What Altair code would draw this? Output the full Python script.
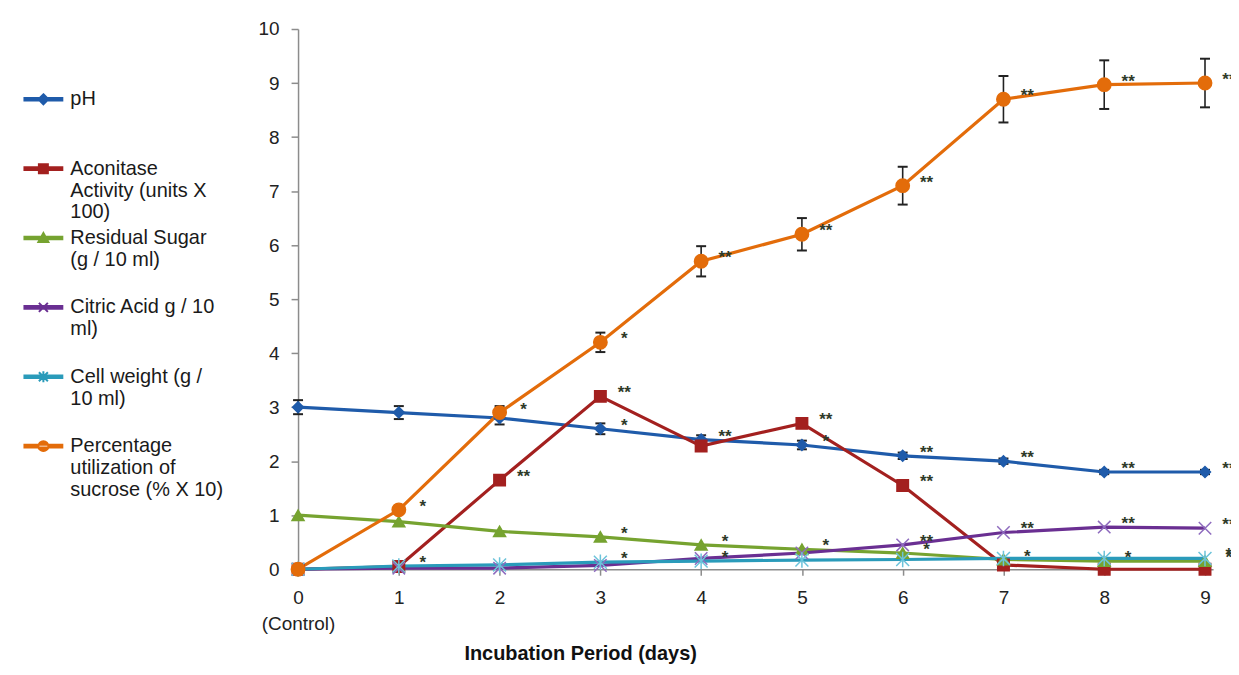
import altair as alt
import pandas as pd

FONT = "Liberation Sans, Arial, sans-serif"

days = [0, 1, 2, 3, 4, 5, 6, 7, 8, 9]
series_names = [
    "pH",
    "Aconitase\nActivity (units X\n100)",
    "Residual Sugar\n(g / 10 ml)",
    "Citric Acid g / 10\nml)",
    "Cell weight (g /\n10 ml)",
    "Percentage\nutilization of\nsucrose (% X 10)",
]

ph = [3.0, 2.9, 2.8, 2.6, 2.4, 2.3, 2.1, 2.0, 1.8, 1.8]
aconitase = [0.0, 0.05, 1.65, 3.2, 2.28, 2.7, 1.55, 0.08, 0.0, 0.0]
sugar = [1.0, 0.88, 0.7, 0.6, 0.45, 0.37, 0.3, 0.18, 0.15, 0.15]
citric = [0.0, 0.02, 0.02, 0.07, 0.2, 0.3, 0.45, 0.68, 0.78, 0.76]
cell = [0.0, 0.06, 0.08, 0.13, 0.15, 0.17, 0.18, 0.2, 0.2, 0.2]
sucrose = [0.0, 1.1, 2.9, 4.2, 5.7, 6.2, 7.1, 8.7, 8.97, 9.0]

ph_err = [0.13, 0.12, 0.12, 0.1, 0.08, 0.08, 0.06, 0.05, 0.04, 0.04]
aconitase_err = [0.0, 0.0, 0.0, 0.06, 0.05, 0.05, 0.0, 0.0, 0.0, 0.0]
sugar_err = [0.0, 0.0, 0.0, 0.0, 0.0, 0.0, 0.0, 0.0, 0.0, 0.0]
citric_err = [0.0, 0.0, 0.0, 0.0, 0.0, 0.0, 0.0, 0.0, 0.0, 0.0]
cell_err = [0.0, 0.0, 0.0, 0.0, 0.0, 0.0, 0.0, 0.0, 0.0, 0.0]
sucrose_err = [0.0, 0.05, 0.12, 0.18, 0.28, 0.3, 0.35, 0.43, 0.45, 0.45]

ph_sig = ["", "", "", "*", "**", "*", "**", "**", "**", "**"]
aconitase_sig = ["", "", "**", "**", "", "**", "**", "", "", ""]
sugar_sig = ["", "", "", "*", "*", "*", "*", "*", "*", "*"]
citric_sig = ["", "", "", "", "", "", "**", "**", "**", "**"]
cell_sig = ["", "*", "", "*", "*", "", "", "", "", "*"]
sucrose_sig = ["", "*", "*", "*", "**", "**", "**", "**", "**", "**"]

values = [ph, aconitase, sugar, citric, cell, sucrose]
errors = [ph_err, aconitase_err, sugar_err, citric_err, cell_err, sucrose_err]
sigs = [ph_sig, aconitase_sig, sugar_sig, citric_sig, cell_sig, sucrose_sig]

colors = ["#1F5BAA", "#A3201F", "#76A330", "#6A2F92", "#2A9BBA", "#E36C0A"]
marker_strokes = ["#1F5BAA", "#A3201F", "#76A330", "#8E6BBE", "#6CC3DA", "#E36C0A"]

rows, err_rows, sig_rows = [], [], []
for i, (name, vals, errs, sg) in enumerate(zip(series_names, values, errors, sigs)):
    for d, v, e, s in zip(days, vals, errs, sg):
        rows.append({"series": name, "idx": i, "day": d, "value": v})
        if e > 0:
            err_rows.append({"series": name, "day": d, "lo": v - e, "hi": v + e})
        if s:
            sig_rows.append({"series": name, "day": d, "value": v, "sig": s})
df = pd.DataFrame(rows)
err_df = pd.DataFrame(err_rows)
sig_df = pd.DataFrame(sig_rows)
idx_domain = list(range(len(series_names)))

# marker shapes in the plot
marker_paths = [
    "diamond",
    "square",
    "triangle-up",
    "M-1,-1L1,1M-1,1L1,-1",
    "M-1,-1L1,1M-1,1L1,-1M0,-1.2L0,1.2",
    "circle",
]
marker_sizes = [120, 180, 170, 160, 160, 240]

# legend symbols: line + marker
LINE = "M-1.9,-0.13L1.9,-0.13L1.9,0.13L-1.9,0.13Z"
legend_paths = [
    LINE + "M0,-0.5L0.5,0L0,0.5L-0.5,0Z",
    LINE + "M-0.45,-0.45L0.45,-0.45L0.45,0.45L-0.45,0.45Z",
    LINE + "M0,-0.5L0.5,0.4L-0.5,0.4Z",
    LINE + "M-0.45,-0.45L0.45,0.45M-0.45,0.45L0.45,-0.45",
    LINE + "M-0.45,-0.45L0.45,0.45M-0.45,0.45L0.45,-0.45M0,-0.55L0,0.55",
    LINE + "M-0.5,0A0.5,0.5 0 1,0 0.5,0A0.5,0.5 0 1,0 -0.5,0Z",
]
shape_expr = "[" + ",".join("'" + p + "'" for p in legend_paths) + "][datum.index]"

color_scale = alt.Scale(domain=series_names, range=colors)

x_axis = alt.Axis(
    values=days, title="Incubation Period (days)", grid=False,
    labelExpr="datum.value == 0 ? ['0', '(Control)'] : datum.label",
    labelFlush=False, labelOverlap=False, tickSize=6, labelPadding=13,
    labelLineHeight=26, labelFontSize=19, labelFont=FONT, labelColor="#222",
    domainColor="#8c8c8c", tickColor="#8c8c8c", domainWidth=1.5, tickWidth=1.5,
    titleFont=FONT, titleFontSize=20, titleFontWeight="bold", titleColor="#111",
    titleX=283, titleY=85, titleBaseline="middle",
)
y_axis = alt.Axis(
    values=list(range(11)), title=None, grid=False, tickSize=7, labelPadding=12,
    labelFontSize=19, labelFont=FONT, labelColor="#222",
    domainColor="#8c8c8c", tickColor="#8c8c8c", domainWidth=1.5, tickWidth=1.5,
)
x_scale = alt.Scale(domain=[0, 9.08], nice=False, zero=False)
y_scale = alt.Scale(domain=[0, 10], nice=False)

X = alt.X("day:Q", scale=x_scale, axis=x_axis)

legend = alt.Legend(
    title=None, orient="none", legendX=-274, legendY=59.5, direction="vertical",
    padding=0, rowPadding=4.6, gridAlign="all",
    labelExpr="slice(split(datum.label + '\\n \\n ', '\\n'), 0, 3)",
    labelFont=FONT, labelFontSize=20, labelColor="#1a1a1a", labelLimit=400,
    labelBaseline="middle",
    symbolSize=400, symbolStrokeWidth=2, symbolOffset=7.5, labelOffset=16,
    symbolType=alt.ExprRef(expr=shape_expr),
    symbolFillColor=alt.ExprRef(expr="scale('color', datum.value)"),
    symbolStrokeColor=alt.ExprRef(expr="scale('color', datum.value)"),
)

lines = alt.Chart(df).mark_line(strokeWidth=3.2).encode(
    x=X,
    y=alt.Y("value:Q", scale=y_scale, axis=y_axis),
    color=alt.Color("series:N", scale=color_scale, legend=legend),
)

err_rule = alt.Chart(err_df).mark_rule(color="#222", strokeWidth=1.6).encode(
    x=X,
    y=alt.Y("lo:Q", scale=y_scale, axis=y_axis),
    y2="hi:Q",
)
cap_lo = alt.Chart(err_df).mark_tick(orient="horizontal", color="#222", size=10, thickness=2, opacity=1).encode(
    x=X, y=alt.Y("lo:Q", scale=y_scale, axis=y_axis)
)
cap_hi = alt.Chart(err_df).mark_tick(orient="horizontal", color="#222", size=10, thickness=2, opacity=1).encode(
    x=X, y=alt.Y("hi:Q", scale=y_scale, axis=y_axis)
)

points = alt.Chart(df).mark_point(filled=True, opacity=1, strokeWidth=1.5).encode(
    x=X,
    y=alt.Y("value:Q", scale=y_scale, axis=y_axis),
    fill=alt.Fill("idx:N", scale=alt.Scale(domain=idx_domain, range=colors), legend=None),
    stroke=alt.Stroke("idx:N", scale=alt.Scale(domain=idx_domain, range=marker_strokes), legend=None),
    shape=alt.Shape("idx:N", scale=alt.Scale(domain=idx_domain, range=marker_paths), legend=None),
    size=alt.Size("idx:N", scale=alt.Scale(domain=idx_domain, range=marker_sizes), legend=None),
)

stars = alt.Chart(sig_df).mark_text(
    dx=24, dy=-3, fontSize=17, font=FONT, fontWeight="bold", color="#2e3a28"
).encode(
    x=X,
    y=alt.Y("value:Q", scale=y_scale, axis=y_axis),
    text="sig:N",
)

chart = alt.layer(lines, err_rule, cap_lo, cap_hi, points, stars).properties(
    width=918,
    height=542,
    padding={"left": 291, "top": 20, "right": 18, "bottom": 95},
    autosize=alt.AutoSizeParams(type="none"),
    background="white",
).configure_view(stroke=None)

chart.save("out.html", embed_options={"renderer": "svg", "actions": False})
